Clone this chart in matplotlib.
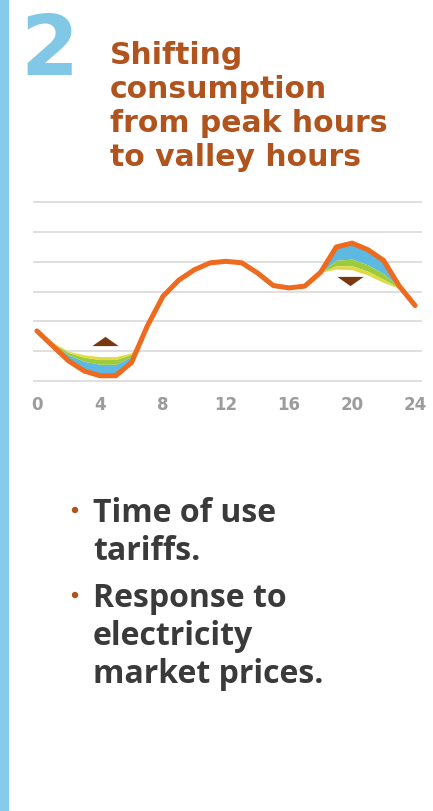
import matplotlib
matplotlib.use("Agg")
import matplotlib.pyplot as plt
from matplotlib.patches import Circle
import numpy as np

# Hourly demand profile (grid units) before and after load shifting
hours = list(range(25))
original = [1.68, 1.18, 0.68, 0.34, 0.18, 0.18, 0.62, 1.84, 2.84, 3.38, 3.73, 3.96, 4.01,
            3.96, 3.62, 3.20, 3.12, 3.18, 3.64, 4.49, 4.62, 4.40, 4.04, 3.18, 2.53]
shifted = [1.68, 1.30, 1.00, 0.88, 0.82, 0.82, 0.95, 1.84, 2.84, 3.38, 3.73, 3.96, 4.01,
           3.96, 3.62, 3.20, 3.12, 3.18, 3.64, 3.75, 3.73, 3.55, 3.30, 3.10, 2.53]
tick_hours = [0, 4, 8, 12, 16, 20, 24]
grid_levels = [0, 1, 2, 3, 4, 5, 6]
arrow_up = (4.3, 1.33)
arrow_down = (19.85, 3.35)

title_lines = ["Shifting", "consumption", "from peak hours", "to valley hours"]
bullets = [["Time of use", "tariffs."], ["Response to", "electricity", "market prices."]]

W, H = 433, 812
fig = plt.figure(figsize=(W / 100, H / 100), dpi=100)
fig.patch.set_facecolor("white")

def fx(px):
    return px / W

def fy(py):
    return 1 - py / H

# left accent bar
fig.add_artist(plt.Rectangle((0, 0), fx(9), 1, transform=fig.transFigure,
                             color="#86CCE8", lw=0))

# big section number
fig.text(fx(20), fy(75), "2", fontsize=60, fontweight="bold", color="#80C8E6",
         family="DejaVu Sans", va="baseline", ha="left")

title_color = "#B0531C"
for i, line in enumerate(title_lines):
    fig.text(fx(110), fy(64 + 34 * i), line, fontsize=21.5, fontweight="bold",
             color=title_color, family="DejaVu Sans", va="baseline", ha="left")

# chart
ax = fig.add_axes([fx(33), fy(386), fx(389), (386 - 199) / H])
ax.set_xlim(-0.25, 24.44)
ax.set_ylim(-0.13, 6.13)
for lv in grid_levels:
    ax.axhline(lv, color="#D6D6D6", lw=1.1, zorder=1)

h = np.array(hours, dtype=float)
o = np.array(original)
s = np.array(shifted)
mid1 = o + 0.60 * (s - o)
mid2 = o + 0.85 * (s - o)
ax.fill_between(h, o, mid1, color="#5DB9E2", lw=0, zorder=2)
ax.fill_between(h, mid1, mid2, color="#9CCB3C", lw=0, zorder=2)
ax.fill_between(h, mid2, s, color="#E2DA45", lw=0, zorder=2)
ax.plot(h, o, color="#EE6A1E", lw=3.6, solid_joinstyle="round",
        solid_capstyle="round", zorder=3)

up_tri = [(-1.0, -0.35), (1.0, -0.35), (0.0, 0.35), (-1.0, -0.35)]
down_tri = [(x, -y) for x, y in up_tri]
ax.plot(*arrow_up, marker=up_tri, ms=19, color="#7A3812", mec="none", zorder=4)
ax.plot(*arrow_down, marker=down_tri, ms=19, color="#7A3812", mec="none", zorder=4)

for sp in ax.spines.values():
    sp.set_visible(False)
ax.set_yticks([])
ax.set_xticks(tick_hours)
ax.set_xticklabels([str(t) for t in tick_hours], fontsize=12, color="#9C9C9C",
                   family="DejaVu Sans", fontweight="bold")
ax.tick_params(axis="x", length=0, pad=7)
ax.patch.set_alpha(0)

# bullet list
text_color = "#3A3A3A"
bullet_color = "#B0531C"
y = 522
for item in bullets:
    fig.add_artist(Circle((75 / 100, (H - (y - 11)) / 100), 0.032,
                          transform=fig.dpi_scale_trans, color=bullet_color, lw=0))
    for line in item:
        fig.text(fx(93), fy(y), line, fontsize=23, fontweight="bold",
                 color=text_color, family="Open Sans", va="baseline", ha="left")
        y += 38
    y += 9

fig.savefig("out.png", dpi=100, facecolor="white")
